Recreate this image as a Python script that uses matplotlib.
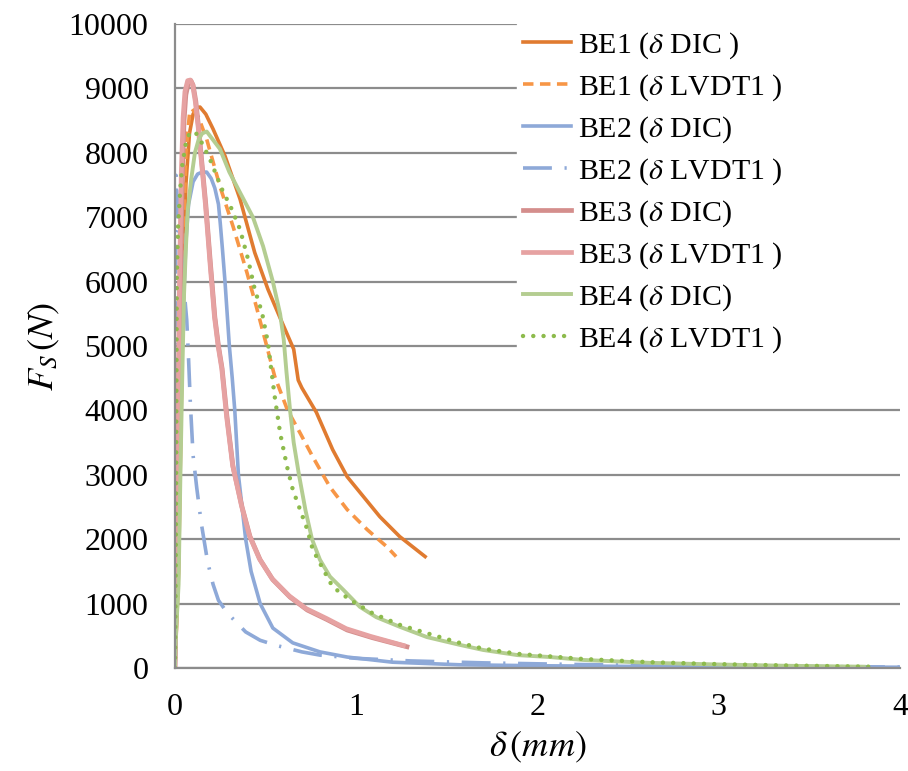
# -------------------------------------------------------------------
# Shear force F_S versus displacement delta for specimens BE1..BE4
# (DIC and LVDT1 measurements)
# -------------------------------------------------------------------

import matplotlib
matplotlib.use('Agg')
import matplotlib.pyplot as plt

# -------------------------------------------------------
# Data
# -------------------------------------------------------

be1_dic_x = [0, 0.02, 0.04, 0.06, 0.08, 0.10, 0.12, 0.138, 0.17, 0.21, 0.276, 0.359,
             0.44, 0.513, 0.59, 0.655, 0.668, 0.68, 0.70, 0.78, 0.87, 0.95, 1.04,
             1.13, 1.24, 1.38]
be1_dic_y = [0, 1500, 5000, 7500, 8300, 8600, 8700, 8710, 8600, 8370, 7950, 7280,
             6450, 5880, 5370, 4950, 4700, 4470, 4350, 3970, 3390, 2970, 2660,
             2350, 2040, 1730]

be1_lvdt_x = [0, 0.02, 0.04, 0.06, 0.08, 0.095, 0.13, 0.175, 0.248, 0.32, 0.397,
              0.45, 0.55, 0.62, 0.69, 0.76, 0.855, 0.95, 1.06, 1.17, 1.22]
be1_lvdt_y = [0, 2500, 6000, 8000, 8600, 8680, 8550, 8210, 7480, 6860, 6140,
              5600, 4530, 4010, 3650, 3280, 2810, 2460, 2150, 1880, 1730]

be2_dic_x = [0, 0.01, 0.02, 0.03, 0.045, 0.06, 0.075, 0.10, 0.125, 0.15, 0.175, 0.2,
             0.22, 0.24, 0.25, 0.262, 0.276, 0.30, 0.316, 0.33, 0.35, 0.37, 0.39,
             0.42, 0.47, 0.54, 0.65, 0.8, 0.95, 1.2, 1.57, 2.0, 2.5, 3.0, 3.5, 4.0]
be2_dic_y = [0, 1500, 3000, 4300, 5500, 6600, 7200, 7550, 7670, 7700, 7700, 7600,
             7450, 7200, 6900, 6500, 6000, 5000, 4500, 4000, 3000, 2500, 2000,
             1500, 1000, 620, 390, 250, 170, 90, 50, 35, 25, 20, 15, 12]

be2_lvdt_x = [0, 0.002, 0.004, 0.006, 0.01, 0.02, 0.04, 0.065, 0.075, 0.085, 0.1,
              0.12, 0.145, 0.18, 0.21, 0.24, 0.29, 0.39, 0.47, 0.56, 0.7, 0.8,
              1.0, 1.3, 1.7, 2.2, 2.8, 3.4, 4.0]
be2_lvdt_y = [0, 3000, 6000, 7650, 7400, 6900, 6200, 5400, 4800, 4100, 3300,
              2800, 2250, 1650, 1300, 1050, 850, 560, 430, 350, 250, 200,
              150, 110, 80, 55, 35, 25, 15]

be3_dic_x = [0, 0.01, 0.02, 0.03, 0.04, 0.05, 0.06, 0.075, 0.088, 0.1, 0.115, 0.13,
             0.15, 0.17, 0.195, 0.22, 0.24, 0.26, 0.287, 0.32, 0.37, 0.414, 0.47,
             0.54, 0.635, 0.73, 0.84, 0.95, 1.09, 1.28]
be3_dic_y = [0, 1500, 3500, 5800, 7600, 8500, 8900, 9100, 9120, 9050, 8800, 8400,
             7800, 7200, 6300, 5450, 5000, 4650, 3900, 3130, 2500, 2040, 1680,
             1370, 1100, 900, 750, 590, 470, 330]

be3_lvdt_x = [0, 0.005, 0.015, 0.025, 0.035, 0.045, 0.055, 0.07, 0.085, 0.097, 0.112,
              0.128, 0.148, 0.168, 0.193, 0.218, 0.238, 0.258, 0.285, 0.318, 0.367,
              0.41, 0.465, 0.535, 0.63, 0.725, 0.835, 0.945, 1.08, 1.26]
be3_lvdt_y = [0, 1500, 3600, 6000, 7700, 8550, 8950, 9120, 9130, 9060, 8800, 8400,
              7800, 7200, 6300, 5450, 5000, 4650, 3900, 3150, 2520, 2060, 1700,
              1390, 1120, 920, 770, 610, 490, 350]

be4_dic_x = [0, 0.005, 0.02, 0.03, 0.04, 0.05, 0.06, 0.07, 0.09, 0.11, 0.13, 0.15,
             0.175, 0.248, 0.30, 0.43, 0.486, 0.54, 0.58, 0.60, 0.615, 0.635,
             0.655, 0.684, 0.72, 0.756, 0.8, 0.855, 0.93, 1.02, 1.11, 1.24, 1.39,
             1.57, 1.70, 1.89, 2.07, 2.25, 2.62, 2.99, 3.36, 3.8]
be4_dic_y = [0, 500, 1300, 3000, 4500, 5800, 6500, 7100, 7600, 8000, 8200, 8300,
             8330, 8060, 7700, 7000, 6550, 6000, 5500, 5100, 4600, 4000,
             3500, 3000, 2450, 2000, 1680, 1420, 1210, 950, 790, 640, 480,
             360, 280, 200, 170, 125, 80, 55, 35, 20]

be4_lvdt_x = [0, 0.004, 0.007, 0.01, 0.017, 0.028, 0.04, 0.06, 0.08, 0.11, 0.138,
              0.193, 0.26, 0.314, 0.359, 0.403, 0.44, 0.48, 0.513, 0.524, 0.55,
              0.58, 0.618, 0.65, 0.69, 0.73, 0.76, 0.82, 0.87, 0.965, 1.09, 1.24,
              1.39, 1.57, 1.70, 1.89, 2.07, 2.25, 2.62, 2.99, 3.36, 3.85]
be4_lvdt_y = [0, 1500, 3500, 6080, 6860, 7390, 7800, 8150, 8300, 8330, 8210,
              7900, 7430, 7120, 6810, 6350, 5880, 5520, 5050, 4790, 4220,
              3650, 3130, 2770, 2460, 2150, 1840, 1520, 1260, 1060, 850, 670,
              540, 390, 300, 220, 180, 140, 90, 60, 40, 20]

labels = [r'BE1 ($\delta$ DIC )', r'BE1 ($\delta$ LVDT1 )',
          r'BE2 ($\delta$ DIC)', r'BE2 ($\delta$ LVDT1 )',
          r'BE3 ($\delta$ DIC)', r'BE3 ($\delta$ LVDT1 )',
          r'BE4 ($\delta$ DIC)', r'BE4 ($\delta$ LVDT1 )']

# -------------------------------------------------------

plt.rcParams['font.family'] = ['Liberation Serif', 'DejaVu Serif']
plt.rcParams['mathtext.fontset'] = 'stix'

fig = plt.figure(figsize=(9.08, 7.71), dpi=100)
ax = fig.add_axes([0.1927, 0.1336, 0.7985, 0.8353])

ax.plot(be1_dic_x, be1_dic_y, '-', color='#E07B30', lw=2.6, label=labels[0])
ax.plot(be1_lvdt_x, be1_lvdt_y, color='#F79646', lw=2.6, ls=(0, (2.9, 1.8)),
        label=labels[1])
ax.plot(be2_dic_x, be2_dic_y, '-', color='#8EA9D8', lw=2.6, label=labels[2])
ax.plot(be2_lvdt_x, be2_lvdt_y, color='#8EA9D8', lw=2.6,
        ls=(0, (8, 3.5, 0.6, 3.5)), label=labels[3])
ax.plot(be3_dic_x, be3_dic_y, '-', color='#D48E8C', lw=3.4, label=labels[4])
ax.plot(be3_lvdt_x, be3_lvdt_y, '-', color='#E6A2A2', lw=3.4, label=labels[5])
ax.plot(be4_dic_x, be4_dic_y, '-', color='#B4CD91', lw=2.8, label=labels[6])
ax.plot(be4_lvdt_x, be4_lvdt_y, color='#8DBB4C', lw=3.2, ls=(0, (0.01, 2.3)),
        dash_capstyle='round', label=labels[7])

ax.set_xlim(0, 4)
ax.set_ylim(0, 10000)
ax.set_xticks([0, 1, 2, 3, 4])
ax.set_yticks(range(0, 10001, 1000))
ax.tick_params(labelsize=23, length=0)
ax.tick_params(axis='y', pad=19)
ax.tick_params(axis='x', pad=18)
ax.yaxis.grid(True, color='#8C8C8C', lw=1.6)
ax.set_axisbelow(True)
for s in ['top', 'right']:
    ax.spines[s].set_visible(False)
for s in ['left', 'bottom']:
    ax.spines[s].set_color('#8C8C8C')
    ax.spines[s].set_linewidth(1.6)

ax.set_xlabel(r'$\delta\,(mm)$', fontsize=26, labelpad=6)
ax.set_ylabel(r'$F_S\,(N)$', fontsize=26, labelpad=5)

leg = ax.legend(loc='upper left', bbox_to_anchor=(0.472, 0.5, 0.528, 0.5),
                mode='expand', fontsize=21.5,
                frameon=True, facecolor='white', edgecolor='white',
                framealpha=1, fancybox=False, handlelength=1.6,
                handletextpad=0.25, labelspacing=0.38, borderpad=0.2,
                borderaxespad=0.0)

fig.savefig('out.png', dpi=100)

# -------------------------------------------------------------------
# End of file
# -------------------------------------------------------------------
